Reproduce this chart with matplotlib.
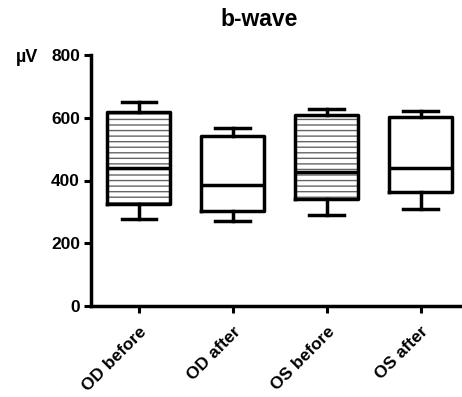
import numpy as np
import matplotlib.pyplot as plt

plt.rcParams['font.family'] = ['Liberation Sans', 'DejaVu Sans']
plt.rcParams['font.weight'] = 'bold'

# box plot statistics (µV)
groups = ['OD before', 'OD after', 'OS before', 'OS after']
whisker_low = [277, 271, 290, 309]
q1 = [325, 303, 341, 363]
median = [440, 385, 427, 439]
q3 = [618, 542, 609, 602]
whisker_high = [650, 567, 628, 621]
hatched = [True, False, True, False]

fig = plt.figure(figsize=(4.62, 3.97), dpi=100)
ax = fig.add_axes([91 / 462, 1 - 306 / 397, 1 - 91 / 462, (306 - 55) / 397])

pos = np.arange(len(groups))
width = 0.67

# gray horizontal hatching behind the hatched boxes
for i, h in enumerate(hatched):
    if h:
        ax.bar(pos[i], q3[i] - q1[i], bottom=q1[i], width=width,
               fill=False, hatch='---', edgecolor='0.4', linewidth=0, zorder=1)

stats = []
for i in range(len(groups)):
    stats.append({'whislo': whisker_low[i], 'q1': q1[i], 'med': median[i],
                  'q3': q3[i], 'whishi': whisker_high[i], 'fliers': []})

lw = 2.5
ax.bxp(stats, positions=pos, widths=width, showfliers=False,
       boxprops=dict(color='black', linewidth=lw),
       medianprops=dict(color='black', linewidth=lw),
       whiskerprops=dict(color='black', linewidth=lw),
       capprops=dict(color='black', linewidth=lw),
       capwidths=0.37, manage_ticks=False, zorder=3)

ax.set_xlim(-0.51, 3.44)
ax.set_ylim(0, 800)
ax.set_yticks([0, 200, 400, 600, 800])
ax.set_xticks(pos)
ax.set_xticklabels(groups, rotation=45, ha='right', rotation_mode='anchor',
                   fontsize=12.5, fontweight='bold')
for lab in ax.get_yticklabels():
    lab.set_fontsize(12.5)
    lab.set_fontweight('bold')

for s in ['top', 'right']:
    ax.spines[s].set_visible(False)
for s in ['left', 'bottom']:
    ax.spines[s].set_linewidth(2.5)
ax.tick_params(axis='both', length=5, width=2.2, pad=3)
ax.tick_params(axis='x', pad=8)

fig.text(259 / 462, 1 - 20 / 397, 'b-wave', ha='center', va='center',
         fontsize=16.5, fontweight='bold')
fig.text(27 / 462, 1 - 58 / 397, 'µV', ha='center', va='center',
         fontsize=13, fontweight='bold')

fig.savefig('out.png', dpi=100)
